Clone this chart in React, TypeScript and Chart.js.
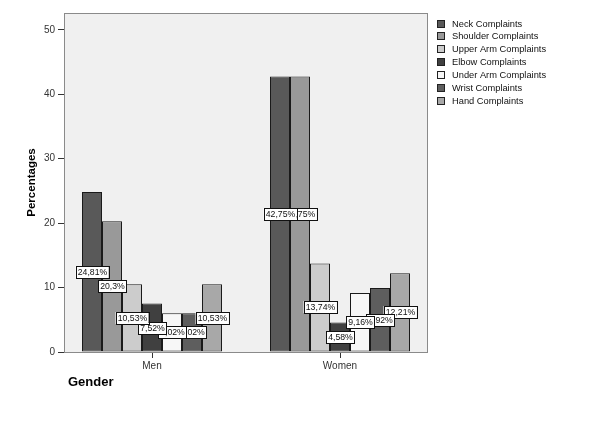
import React, { useEffect, useRef } from "react";
import { Chart, registerables } from "chart.js";

Chart.register(...registerables);

const categories = ["Men", "Women"];
const seriesNames = [
  "Neck Complaints",
  "Shoulder Complaints",
  "Upper Arm Complaints",
  "Elbow Complaints",
  "Under Arm Complaints",
  "Wrist Complaints",
  "Hand Complaints",
];
const neck = [24.81, 42.75];
const shoulder = [20.3, 42.75];
const upperArm = [10.53, 13.74];
const elbow = [7.52, 4.58];
const underArm = [6.02, 9.16];
const wrist = [6.02, 9.92];
const hand = [10.53, 12.21];
const seriesColors = ["#595959", "#999999", "#cccccc", "#404040", "#f7f7f7", "#5e5e5e", "#a8a8a8"];
const yTicks = [0, 10, 20, 30, 40, 50];
const yTitle = "Percentages";
const xTitle = "Gender";

const FONT = "'Liberation Sans', Arial, sans-serif";
const SIDE = 88 / 188;

const decorPlugin = {
  id: "decor",
  beforeDraw(chart: any) {
    const { ctx, chartArea: a } = chart;
    ctx.save();
    ctx.fillStyle = "#f0f0f0";
    ctx.fillRect(a.left, a.top, a.right - a.left, a.bottom - a.top);
    ctx.restore();
  },
  afterDatasetsDraw(chart: any) {
    const { ctx, chartArea: a } = chart;
    ctx.save();
    ctx.strokeStyle = "#8a8a8a";
    ctx.lineWidth = 1;
    ctx.strokeRect(a.left + 0.5, a.top + 0.5, a.right - a.left - 1, a.bottom - a.top);
    ctx.font = `8.7px ${FONT}`;
    ctx.textAlign = "center";
    ctx.textBaseline = "middle";
    const ds = chart.data.datasets;
    for (let i = ds.length - 1; i >= 0; i--) {
      const meta = chart.getDatasetMeta(i);
      meta.data.forEach((el: any, j: number) => {
        const v = ds[i].data[j].y;
        const txt = String(v).replace(".", ",") + "%";
        const x = Math.round(el.x);
        const y = Math.round((el.y + el.base) / 2);
        const w = Math.ceil(ctx.measureText(txt).width) + 3;
        const h = 12;
        ctx.fillStyle = "#ffffff";
        ctx.fillRect(x - w / 2, y - h / 2, w, h);
        ctx.strokeStyle = "#111111";
        ctx.lineWidth = 1;
        ctx.strokeRect(Math.round(x - w / 2) + 0.5, y - h / 2 + 0.5, w, h);
        ctx.fillStyle = "#111111";
        ctx.fillText(txt, x + 0.5, y + 1);
      });
    }
    ctx.restore();
  },
  afterDraw(chart: any) {
    const { ctx, chartArea: a } = chart;
    ctx.save();
    ctx.fillStyle = "#000";
    ctx.font = `bold 11.5px ${FONT}`;
    ctx.textAlign = "center";
    ctx.textBaseline = "middle";
    ctx.translate(32, (a.top + a.bottom) / 2);
    ctx.rotate(-Math.PI / 2);
    ctx.fillText(yTitle, 0, 0);
    ctx.restore();
    ctx.save();
    ctx.fillStyle = "#000";
    ctx.font = `bold 13px ${FONT}`;
    ctx.textAlign = "left";
    ctx.textBaseline = "middle";
    ctx.fillText(xTitle, 68, 382);
    ctx.font = `9.3px ${FONT}`;
    const ds = chart.data.datasets;
    ds.forEach((d: any, i: number) => {
      const cy = 23.5 + i * 12.9;
      ctx.fillStyle = d.backgroundColor;
      ctx.fillRect(437, Math.round(cy - 4), 8, 8);
      ctx.strokeStyle = "#222";
      ctx.lineWidth = 1;
      ctx.strokeRect(437.5, Math.round(cy - 4) + 0.5, 7, 7);
      ctx.fillStyle = "#111";
      ctx.fillText(d.label, 452, cy + 0.5);
    });
    ctx.restore();
  },
};

export default function App() {
  const ref = useRef<HTMLCanvasElement>(null);
  useEffect(() => {
    const values = [neck, shoulder, upperArm, elbow, underArm, wrist, hand];
    const chart = new Chart(ref.current!, {
      type: "bar",
      data: {
        datasets: seriesNames.map((name, i) => ({
          label: name,
          data: values[i].map((v, j) => ({ x: j, y: v })),
          backgroundColor: seriesColors[i],
          borderColor: "#1a1a1a",
          borderWidth: 1,
          borderSkipped: false,
          categoryPercentage: 140 / 188,
          barPercentage: 1,
        })),
      },
      options: {
        animation: false,
        responsive: true,
        maintainAspectRatio: false,
        layout: { padding: { top: 13, right: 172, left: 0, bottom: 0 } },
        plugins: { legend: { display: false }, tooltip: { enabled: false } },
        scales: {
          x: {
            type: "linear",
            min: -SIDE,
            max: categories.length - 1 + SIDE,
            offset: false,
            grid: { display: true, drawOnChartArea: false, offset: false, tickLength: 6, color: "#333" },
            border: { display: false },
            ticks: {
              color: "#333",
              padding: 2,
              font: { size: 10, family: FONT },
              callback: (v: any) => categories[v] ?? "",
            },
            afterBuildTicks(scale: any) {
              scale.ticks = categories.map((_, i) => ({ value: i }));
            },
            afterFit(scale: any) {
              scale.height = 421 - 352;
            },
          },
          y: {
            min: 0,
            max: 52.6,
            grid: { display: true, drawOnChartArea: false, tickLength: 6, color: "#333" },
            border: { display: false },
            ticks: { color: "#333", padding: 3, font: { size: 10, family: FONT } },
            afterBuildTicks(scale: any) {
              scale.ticks = yTicks.map((v) => ({ value: v }));
            },
            afterFit(scale: any) {
              scale.width = 64;
            },
          },
        },
      },
      plugins: [decorPlugin],
    });
    return () => chart.destroy();
  }, []);
  return (
    <div style={{ position: "fixed", left: 0, top: 0, width: 600, height: 421, background: "#fff" }}>
      <canvas ref={ref} />
    </div>
  );
}
